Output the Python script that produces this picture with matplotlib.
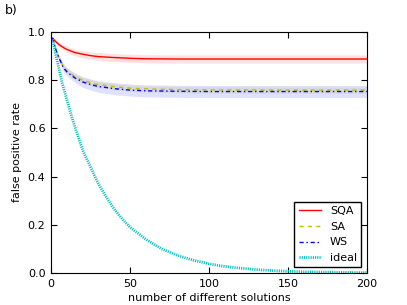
import matplotlib
matplotlib.use("Agg")
import matplotlib.pyplot as plt

# number of different solutions
n_alg = [1, 3, 5, 8, 10, 15, 20, 25, 30, 40, 50, 60, 80, 100, 150, 200]

sqa = [0.975, 0.960, 0.948, 0.935, 0.928, 0.915, 0.908, 0.902, 0.898, 0.894,
       0.891, 0.889, 0.888, 0.888, 0.888, 0.888]
sqa_err = [0.005, 0.008, 0.010, 0.012, 0.013, 0.014, 0.015, 0.016, 0.016, 0.017,
           0.017, 0.017, 0.017, 0.017, 0.017, 0.017]

sa = [0.975, 0.930, 0.895, 0.855, 0.840, 0.815, 0.800, 0.790, 0.782, 0.773,
      0.767, 0.764, 0.761, 0.760, 0.759, 0.759]
sa_err = [0.005, 0.008, 0.010, 0.012, 0.012, 0.013, 0.013, 0.013, 0.013, 0.013,
          0.013, 0.013, 0.013, 0.013, 0.013, 0.013]

ws = [0.975, 0.928, 0.893, 0.850, 0.835, 0.810, 0.793, 0.782, 0.774, 0.765,
      0.759, 0.756, 0.754, 0.753, 0.753, 0.753]
ws_err = [0.005, 0.010, 0.013, 0.016, 0.018, 0.020, 0.022, 0.023, 0.024, 0.025,
          0.025, 0.025, 0.025, 0.025, 0.025, 0.025]

n_ideal = [1, 3, 5, 7, 10, 13, 16, 20, 25, 30, 35, 40, 45, 50, 55, 60, 70, 80,
           90, 100, 110, 120, 130, 140, 150, 160, 170, 180, 190, 200]
ideal = [0.97, 0.905, 0.85, 0.79, 0.72, 0.65, 0.59, 0.51, 0.44, 0.37, 0.315,
         0.265, 0.225, 0.19, 0.165, 0.14, 0.10, 0.073, 0.053, 0.038, 0.027,
         0.02, 0.014, 0.01, 0.007, 0.005, 0.004, 0.003, 0.002, 0.0015]

plt.rcParams["font.size"] = 8
plt.rcParams["lines.scale_dashes"] = False

yel = (0.75, 0.75, 0)
cyan = (0, 0.75, 0.75)

fig = plt.figure(figsize=(4.07, 3.05), dpi=100)
ax = fig.add_axes([0.1253, 0.105, 0.7764, 0.79])


def band(y, e):
    lo = [a - b for a, b in zip(y, e)]
    hi = [a + b for a, b in zip(y, e)]
    return lo, hi


lo, hi = band(sqa, sqa_err)
ax.fill_between(n_alg, lo, hi, color="r", alpha=0.12, lw=0)
lo, hi = band(sa, sa_err)
ax.fill_between(n_alg, lo, hi, color=yel, alpha=0.12, lw=0)
lo, hi = band(ws, ws_err)
ax.fill_between(n_alg, lo, hi, color="b", alpha=0.12, lw=0)

ax.plot(n_alg, sqa, "-", color="r", lw=1, label="SQA")
ax.plot(n_alg, sa, color=yel, lw=1, ls=(0, (3, 3)), label="SA")
ax.plot(n_alg, ws, color="b", lw=1, ls=(0, (3, 2, 1, 2)), label="WS")
ax.plot(n_ideal, ideal, color=cyan, lw=2, ls=(0, (0.8, 0.8)), label="ideal")

ax.set_xlim(0, 200)
ax.set_ylim(0, 1)
ax.set_xticks([0, 50, 100, 150, 200])
ax.set_yticks([0.0, 0.2, 0.4, 0.6, 0.8, 1.0])
ax.tick_params(direction="in", top=True, right=True, length=4, pad=4)
ax.set_xlabel("number of different solutions", labelpad=3)
ax.set_ylabel("false positive rate")

leg = ax.legend(loc="lower right", fancybox=False, framealpha=1,
                borderaxespad=0.5, handlelength=2.0)
leg.get_frame().set_edgecolor("k")

fig.text(0.012, 0.955, "b)", fontsize=9)

fig.savefig("out.png", dpi=100)
